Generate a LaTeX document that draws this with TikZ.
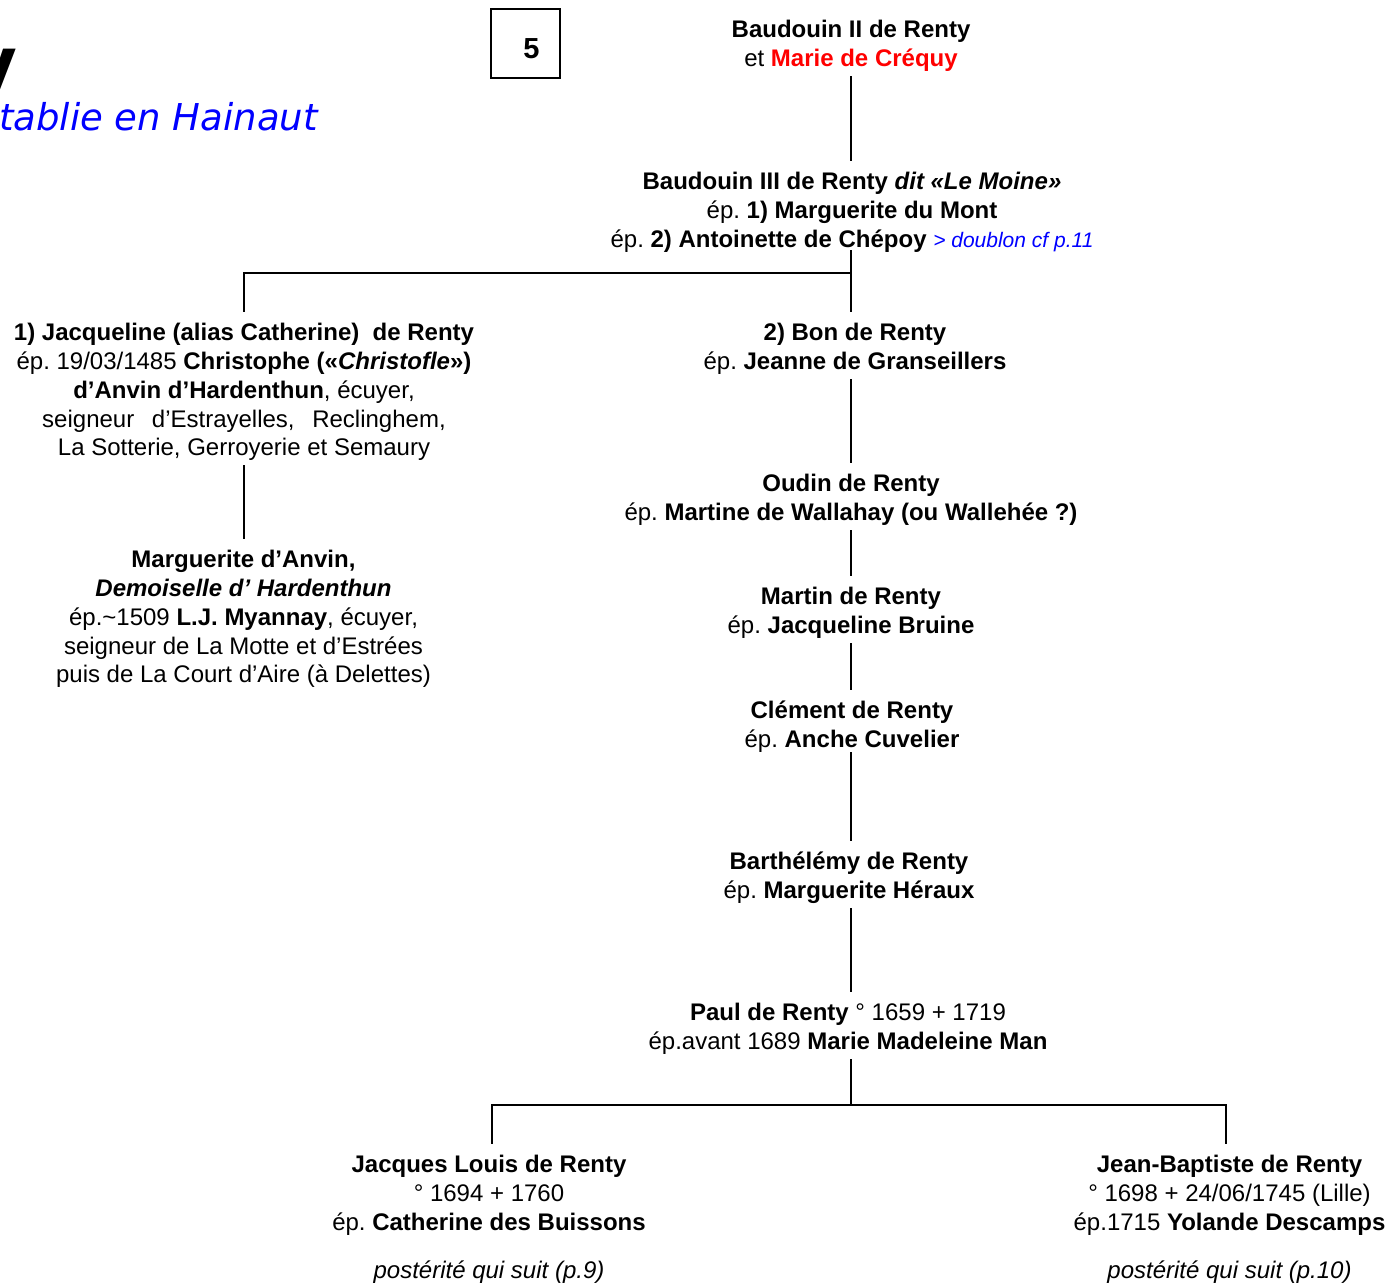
\documentclass[tikz,border=0pt]{standalone}
\usepackage{fontspec}
\setmainfont{Liberation Sans}
\newfontfamily\verdanalike{DejaVu Sans}
\definecolor{crequyred}{RGB}{255,0,0}
\definecolor{noteblue}{RGB}{0,0,255}
\newcommand\txtsize{\fontsize{24}{28.8}\selectfont\frenchspacing}
\newcommand\notesize{\fontsize{21}{25}\selectfont}
\newcommand\topstrut{\rule{0pt}{24.6pt}}
\begin{document}
\begin{tikzpicture}[x=1pt,y=-1pt,
  person/.style={align=center, anchor=north, inner xsep=0pt, inner ysep=5.4pt,
    text depth=5.1pt, font=\txtsize},
  link/.style={line width=2.6pt, line cap=rect},
  pagebox/.style={draw, line width=1.3pt, minimum width=69pt, minimum height=69pt, inner sep=0pt}]
\useasboundingbox (0,0) rectangle (1391,1283);
% title fragments
\node[anchor=base east, inner sep=0pt, font=\verdanalike\bfseries\fontsize{72}{72}\selectfont] (titley) at (18,88) {y};
\node[anchor=base east, inner sep=0pt, text=noteblue, font=\verdanalike\itshape\fontsize{37}{40}\selectfont] (subtitle) at (318,130) {tablie en Hainaut};
% page number
\node[pagebox] (page) at (525.5,43.5) {};
\node[inner sep=0pt, font=\bfseries\fontsize{29}{30}\selectfont] (pagenum) at (531.5,49) {5};
% persons
\node[person] (b2) at (851,7.5) {\topstrut\textbf{Baudouin II de Renty}\\et {\bfseries\color{crequyred}Marie de Créquy}};
\node[person] (b3) at (852,159.5) {\topstrut\textbf{Baudouin III de Renty \textit{dit «Le Moine»}}\\ép. \textbf{1) Marguerite du Mont}\\ép. \textbf{2) Antoinette de Chépoy} {\notesize\itshape\color{noteblue}> doublon cf p.11}};
\node[person] (jacq) at (244,310.5) {\topstrut\textbf{1) Jacqueline (alias Catherine)\ \ de Renty}\\ép. 19/03/1485 \textbf{Christophe («\textit{Christofle}»)}\\\textbf{d’Anvin d’Hardenthun}, écuyer,\\seigneur\hspace{11pt} d’Estrayelles,\hspace{11pt} Reclinghem,\\La Sotterie, Gerroyerie et Semaury};
\node[person] (marg) at (243.5,537.5) {\topstrut\textbf{Marguerite d’Anvin,}\\\textbf{\textit{Demoiselle d’ Hardenthun}}\\ép.\textasciitilde1509 \textbf{L.J. Myannay}, écuyer,\\seigneur de La Motte et d’Estrées\\puis de La Court d’Aire (à Delettes)};
\node[person] (bon) at (855,310.5) {\topstrut\textbf{2) Bon de Renty}\\ép. \textbf{Jeanne de Granseillers}};
\node[person] (oudin) at (851,461.5) {\topstrut\textbf{Oudin de Renty}\\ép. \textbf{Martine de Wallahay (ou Wallehée ?)}};
\node[person] (martin) at (851,574.5) {\topstrut\textbf{Martin de Renty}\\ép. \textbf{Jacqueline Bruine}};
\node[person] (clement) at (852,688.5) {\topstrut\textbf{Clément de Renty}\\ép. \textbf{Anche Cuvelier}};
\node[person] (barth) at (849,839.5) {\topstrut\textbf{Barthélémy de Renty}\\ép. \textbf{Marguerite Héraux}};
\node[person] (paul) at (848,990.5) {\topstrut\textbf{Paul de Renty} ° 1659 + 1719\\ép.avant 1689 \textbf{Marie Madeleine Man}};
\node[person] (jacques) at (489,1142.5) {\topstrut\textbf{Jacques Louis de Renty}\\° 1694 + 1760\\ép. \textbf{Catherine des Buissons}\\[19.6pt]\textit{postérité qui suit (p.9)}};
\node[person] (jb) at (1229.5,1142.5) {\topstrut\textbf{Jean-Baptiste de Renty}\\° 1698 + 24/06/1745 (Lille)\\ép.1715 \textbf{Yolande Descamps}\\[19.6pt]\textit{postérité qui suit (p.10)}};
% axis and forks
\coordinate (axis) at (851,0);
\coordinate (forkA) at (851,273);
\coordinate (forkB) at (851,1105);
\coordinate (forkBl) at (492,1105);
\coordinate (forkBr) at (1226,1105);
% connectors
\draw[link] (axis |- b2.south) -- (axis |- b3.north);
\draw[link, shorten <=-7pt] (axis |- b3.south) -- (axis |- bon.north);
\draw[link] (forkA) -| (jacq.north);
\draw[link] (jacq.south) -- (jacq.south |- marg.north);
\draw[link] (axis |- bon.south) -- (axis |- oudin.north);
\draw[link] (axis |- oudin.south) -- (axis |- martin.north);
\draw[link] (axis |- martin.south) -- (axis |- clement.north);
\draw[link, shorten <=-5pt] (axis |- clement.south) -- (axis |- barth.north);
\draw[link] (axis |- barth.south) -- (axis |- paul.north);
\draw[link] (axis |- paul.south) -- (forkB);
\draw[link] (forkBl |- jacques.north) -- (forkBl) -- (forkBr) -- (forkBr |- jb.north);
\end{tikzpicture}
\end{document}
